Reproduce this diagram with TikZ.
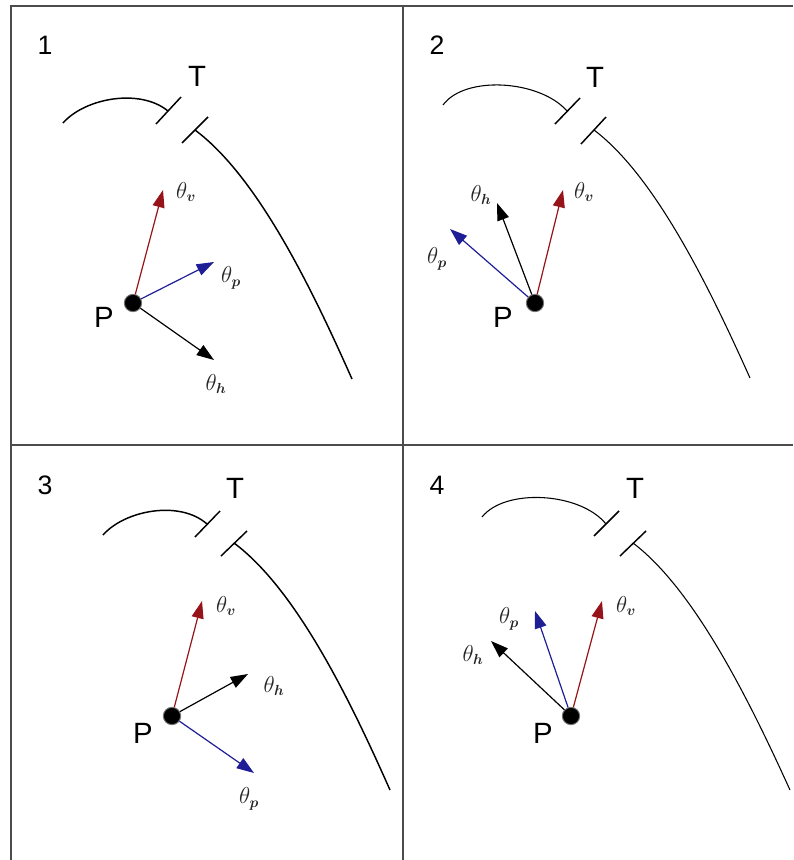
\documentclass[tikz,border=0pt]{standalone}
\usepackage{amsmath,amssymb,bm,fontspec}
\setmainfont{Liberation Sans}
\usetikzlibrary{arrows.meta}
\definecolor{vred}{RGB}{150,20,25}
\definecolor{pblue}{RGB}{30,30,150}

\begin{document}
\begin{tikzpicture}[x=.75pt,y=-.75pt,
  frame/.style={line width=1.5pt,black!70},
  wall/.style={line width=1.1pt},
  thinwall/.style={line width=.8pt},
  vec/.style={line width=.9pt,-{Triangle[length=13pt,width=9pt]}},
  dot/.style={circle,fill=black,draw=black!55,line width=.7pt,minimum size=13pt,inner sep=0pt},
  lbl/.style={font=\fontsize{22}{25}\selectfont,inner sep=0pt},
  num/.style={font=\fontsize{20}{23}\selectfont,inner sep=0pt},
  ang/.style={text=black!85,font=\fontsize{16}{18}\selectfont,inner sep=0pt}]
\path[use as bounding box] (0,0) rectangle (793,860);
\draw[frame] (11,860)--(11,6)--(793,6);
\draw[frame] (403,6)--(403,860) (11,445)--(793,445);

\node[num] (n1) at (45,45) {1};
\node[lbl] (T1) at (197,76) {T};
\draw[wall] (63,123) .. controls (85,98) and (140,88) .. (168,111);
\draw[wall] (156,124)--(181,97) (182,143)--(208,117);
\draw[wall] (195,130) .. controls (258,177) and (312,289) .. (352,379);
\coordinate (v1) at (163,190);
\coordinate (p1) at (214,262);
\coordinate (h1) at (214,360);
\node[dot] (P1) at (133,303) {};
\draw[vec,vred] (P1)--(v1);
\draw[vec,pblue] (P1)--(p1);
\draw[vec,black] (P1)--(h1);
\node[lbl] (Pl1) at (104,317) {P};
\node[ang] (tv1) at (186,192) {$\theta_{\bm v}$};
\node[ang] (tp1) at (231,278) {$\theta_{\bm p}$};
\node[ang] (th1) at (216,384) {$\theta_{\bm h}$};

\node[num] (n2) at (437,45) {2};
\node[lbl] (T2) at (595,77) {T};
\draw[thinwall] (443,105) .. controls (465,75) and (540,80) .. (567,111);
\draw[wall] (555,124)--(580,98) (581,144)--(606,117);
\draw[thinwall] (594,130) .. controls (656,177) and (710,289) .. (750,378);
\coordinate (v2) at (563,190);
\coordinate (h2) at (497,203);
\coordinate (p2) at (450,229);
\node[dot] (P2) at (535,303) {};
\draw[vec,vred] (P2)--(v2);
\draw[vec,black] (P2)--(h2);
\draw[vec,pblue] (P2)--(p2);
\node[lbl] (Pl2) at (503,317) {P};
\node[ang] (tv2) at (584,192) {$\theta_{\bm v}$};
\node[ang] (th2) at (481,195) {$\theta_{\bm h}$};
\node[ang] (tp2) at (437,259) {$\theta_{\bm p}$};

\node[num] (n3) at (45,485) {3};
\node[lbl] (T3) at (235,488) {T};
\draw[wall] (103,535) .. controls (125,510) and (180,500) .. (207,524);
\draw[wall] (195,537)--(220,511) (221,556)--(247,531);
\draw[wall] (234,543) .. controls (297,590) and (351,702) .. (390,790);
\coordinate (v3) at (202,601);
\coordinate (h3) at (248,674);
\coordinate (p3) at (254,773);
\node[dot] (P3) at (172,716) {};
\draw[vec,vred] (P3)--(v3);
\draw[vec,black] (P3)--(h3);
\draw[vec,pblue] (P3)--(p3);
\node[lbl] (Pl3) at (143,733) {P};
\node[ang] (tv3) at (226,606) {$\theta_{\bm v}$};
\node[ang] (th3) at (274,686) {$\theta_{\bm h}$};
\node[ang] (tp3) at (249,799) {$\theta_{\bm p}$};

\node[num] (n4) at (437,485) {4};
\node[lbl] (T4) at (635,488) {T};
\draw[thinwall] (482,517) .. controls (505,488) and (580,492) .. (606,524);
\draw[wall] (594,536)--(619,511) (620,556)--(646,531);
\draw[thinwall] (633,543) .. controls (695,590) and (750,702) .. (790,790);
\coordinate (v4) at (602,601);
\coordinate (p4) at (535,611);
\coordinate (h4) at (491,641);
\node[dot] (P4) at (571,716) {};
\draw[vec,vred] (P4)--(v4);
\draw[vec,pblue] (P4)--(p4);
\draw[vec,black] (P4)--(h4);
\node[lbl] (Pl4) at (543,733) {P};
\node[ang] (tv4) at (626,606) {$\theta_{\bm v}$};
\node[ang] (tp4) at (509,619) {$\theta_{\bm p}$};
\node[ang] (th4) at (473,655) {$\theta_{\bm h}$};
\end{tikzpicture}
\end{document}
